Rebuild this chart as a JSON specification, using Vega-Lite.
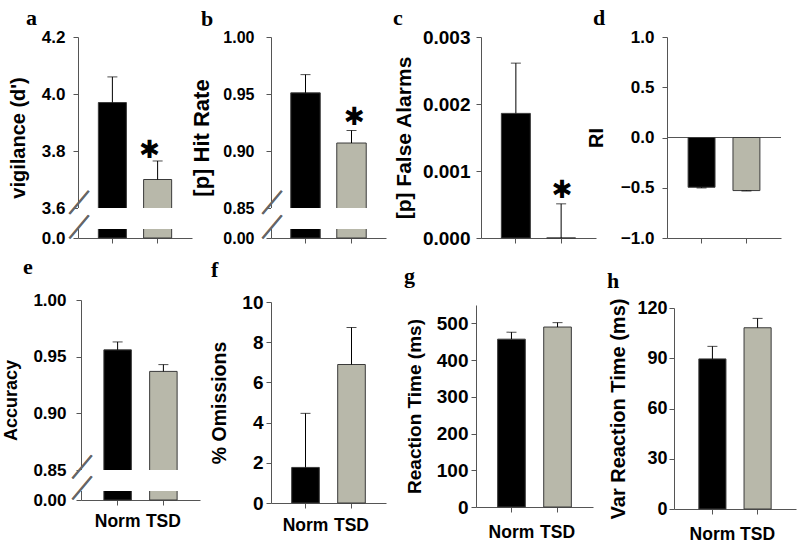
{
  "$schema": "https://vega.github.io/schema/vega-lite/v6.json",
  "background": "white",
  "padding": {"left": 2, "top": 7, "right": 5, "bottom": 5},
  "config": {
    "view": {"stroke": null},
    "font": "Liberation Sans",
    "axis": {"grid": false, "domainColor": "#555555", "tickColor": "#555555", "tickSize": 5, "labelFont": "Liberation Sans", "labelFontSize": 17, "labelFontWeight": "bold", "labelColor": "#000000", "labelPadding": 8, "titleFont": "Liberation Sans", "titleFontSize": 19, "titleFontWeight": "bold", "titleColor": "#000000", "titlePadding": 12, "labelOverlap": false, "labelFlush": false},
    "axisX": {"labelAngle": 0, "labelPadding": 3},
    "title": {"font": "Liberation Serif", "fontSize": 22, "fontWeight": "bold", "anchor": "start", "frame": "group", "baseline": "alphabetic", "offset": -2, "color": "#000000"}
  },
  "datasets": {
    "d": [
      {"panel": "a", "group": "Norm", "value": 3.97, "upper": 4.06, "sig": false},
      {"panel": "a", "group": "TSD", "value": 3.70, "upper": 3.765, "sig": true},
      {"panel": "b", "group": "Norm", "value": 0.951, "upper": 0.967, "sig": false},
      {"panel": "b", "group": "TSD", "value": 0.907, "upper": 0.918, "sig": true},
      {"panel": "c", "group": "Norm", "value": 0.00186, "upper": 0.00261, "sig": false},
      {"panel": "c", "group": "TSD", "value": 0, "upper": 0.00051, "sig": true},
      {"panel": "d", "group": "Norm", "value": -0.495, "upper": -0.502, "sig": false},
      {"panel": "d", "group": "TSD", "value": -0.528, "upper": -0.532, "sig": false},
      {"panel": "e", "group": "Norm", "value": 0.956, "upper": 0.963, "sig": false},
      {"panel": "e", "group": "TSD", "value": 0.937, "upper": 0.943, "sig": false},
      {"panel": "f", "group": "Norm", "value": 1.77, "upper": 4.46, "sig": false},
      {"panel": "f", "group": "TSD", "value": 6.89, "upper": 8.73, "sig": false},
      {"panel": "g", "group": "Norm", "value": 457, "upper": 476, "sig": false},
      {"panel": "g", "group": "TSD", "value": 490, "upper": 502, "sig": false},
      {"panel": "h", "group": "Norm", "value": 89.6, "upper": 97.1, "sig": false},
      {"panel": "h", "group": "TSD", "value": 108.2, "upper": 113.8, "sig": false}
    ]
  },
  "data": {"name": "d"},
  "columns": 4,
  "spacing": {"row": 62, "column": 0},
  "bounds": "flush",
  "align": "each",
  "concat": [
    {
      "width": 193, "height": 201,
      "title": {"text": "a", "dx": -52},
      "transform": [{"filter": "datum.panel === 'a'"}],
      "encoding": {"y": {"field": "value", "type": "quantitative", "scale": {"domain": [0, 0.1, 3.6, 4.2], "range": [201, 192, 171, 0], "zero": false, "nice": false}, "axis": {"title": "vigilance (d')", "values": [0, 3.6, 3.8, 4.0, 4.2], "format": ".1f", "labelFontSize": 17, "labelPadding": 8, "titleFontSize": 20, "titlePadding": 13}}},
      "layer": [
        {"mark": {"type": "bar", "stroke": "#3a3a3a", "strokeWidth": 1}, "encoding": {"x": {"field": "group", "type": "nominal", "sort": ["Norm", "TSD"], "scale": {"range": [0, 114], "paddingInner": 0.38, "paddingOuter": 0.45}, "axis": {"title": null, "labels": false}}, "y2": {"datum": 0}, "color": {"field": "group", "type": "nominal", "scale": {"domain": ["Norm", "TSD"], "range": ["#000000", "#b8b8aa"]}, "legend": null}}},
        {"mark": {"type": "rule", "color": "#000000", "strokeWidth": 1}, "encoding": {"x": {"field": "group", "type": "nominal", "sort": ["Norm", "TSD"]}, "y2": {"field": "upper"}}},
        {"mark": {"type": "tick", "color": "#000000", "thickness": 1, "size": 10, "orient": "horizontal"}, "encoding": {"x": {"field": "group", "type": "nominal", "sort": ["Norm", "TSD"]}, "y": {"field": "upper", "type": "quantitative"}}},
        {"transform": [{"filter": "datum.sig"}], "mark": {"type": "text", "text": "✱", "font": "DejaVu Sans", "fontSize": 25, "baseline": "middle", "dx": -8, "dy": -11, "color": "#000000"}, "encoding": {"x": {"field": "group", "type": "nominal", "sort": ["Norm", "TSD"]}, "y": {"field": "upper", "type": "quantitative"}}},
        {"mark": {"type": "rect", "color": "white"}, "encoding": {"y": {"datum": 0.1}, "y2": {"datum": 3.6}}},
        {"mark": {"type": "text", "text": "—", "font": "Liberation Sans", "fontSize": 30, "angle": -50, "baseline": "middle", "align": "center", "dx": -22.1, "dy": -26.35, "color": "#666666"}, "encoding": {"x": {"datum": "Norm"}, "y": {"datum": 3.623}}},
        {"mark": {"type": "text", "text": "—", "font": "Liberation Sans", "fontSize": 30, "angle": -50, "baseline": "middle", "align": "center", "dx": -22.1, "dy": -26.35, "color": "#666666"}, "encoding": {"x": {"datum": "Norm"}, "y": {"datum": 0.6}}}
      ]
    },
    {
      "width": 205, "height": 201,
      "title": {"text": "b", "dx": -70},
      "transform": [{"filter": "datum.panel === 'b'"}],
      "encoding": {"y": {"field": "value", "type": "quantitative", "scale": {"domain": [0, 0.01, 0.85, 1.0], "range": [201, 192, 171, 0], "zero": false, "nice": false}, "axis": {"title": "[p] Hit Rate", "values": [0, 0.85, 0.9, 0.95, 1.0], "format": ".2f", "labelFontSize": 16, "labelPadding": 12, "titleFontSize": 22, "titlePadding": 9}}},
      "layer": [
        {"mark": {"type": "bar", "stroke": "#3a3a3a", "strokeWidth": 1}, "encoding": {"x": {"field": "group", "type": "nominal", "sort": ["Norm", "TSD"], "scale": {"range": [0, 115], "paddingInner": 0.36, "paddingOuter": 0.43}, "axis": {"title": null, "labels": false}}, "y2": {"datum": 0}, "color": {"field": "group", "type": "nominal", "scale": {"domain": ["Norm", "TSD"], "range": ["#000000", "#b8b8aa"]}, "legend": null}}},
        {"mark": {"type": "rule", "color": "#000000", "strokeWidth": 1}, "encoding": {"x": {"field": "group", "type": "nominal", "sort": ["Norm", "TSD"]}, "y2": {"field": "upper"}}},
        {"mark": {"type": "tick", "color": "#000000", "thickness": 1, "size": 10, "orient": "horizontal"}, "encoding": {"x": {"field": "group", "type": "nominal", "sort": ["Norm", "TSD"]}, "y": {"field": "upper", "type": "quantitative"}}},
        {"transform": [{"filter": "datum.sig"}], "mark": {"type": "text", "text": "✱", "font": "DejaVu Sans", "fontSize": 25, "baseline": "middle", "dx": 3, "dy": -13, "color": "#000000"}, "encoding": {"x": {"field": "group", "type": "nominal", "sort": ["Norm", "TSD"]}, "y": {"field": "upper", "type": "quantitative"}}},
        {"mark": {"type": "rect", "color": "white"}, "encoding": {"y": {"datum": 0.01}, "y2": {"datum": 0.85}}},
        {"mark": {"type": "text", "text": "—", "font": "Liberation Sans", "fontSize": 30, "angle": -50, "baseline": "middle", "align": "center", "dx": -22.2, "dy": -26.4, "color": "#666666"}, "encoding": {"x": {"datum": "Norm"}, "y": {"datum": 0.8557}}},
        {"mark": {"type": "text", "text": "—", "font": "Liberation Sans", "fontSize": 30, "angle": -50, "baseline": "middle", "align": "center", "dx": -22.2, "dy": -26.4, "color": "#666666"}, "encoding": {"x": {"datum": "Norm"}, "y": {"datum": 0.13}}}
      ]
    },
    {
      "width": 191, "height": 201,
      "title": {"text": "c", "dx": -83},
      "transform": [{"filter": "datum.panel === 'c'"}],
      "encoding": {"y": {"field": "value", "type": "quantitative", "scale": {"domain": [0, 0.003], "range": [201, 0], "zero": false, "nice": false}, "axis": {"title": "[p] False Alarms", "values": [0, 0.001, 0.002, 0.003], "format": ".3f", "offset": -5, "labelFontSize": 19, "labelPadding": 6, "titleFontSize": 21, "titlePadding": 8}}},
      "layer": [
        {"mark": {"type": "bar", "stroke": "#3a3a3a", "strokeWidth": 1}, "encoding": {"x": {"field": "group", "type": "nominal", "sort": ["Norm", "TSD"], "scale": {"range": [5, 120], "paddingInner": 0.36, "paddingOuter": 0.45}, "axis": {"title": null, "labels": false}}, "y2": {"datum": 0}, "color": {"field": "group", "type": "nominal", "scale": {"domain": ["Norm", "TSD"], "range": ["#000000", "#b8b8aa"]}, "legend": null}}},
        {"mark": {"type": "rule", "color": "#000000", "strokeWidth": 1}, "encoding": {"x": {"field": "group", "type": "nominal", "sort": ["Norm", "TSD"]}, "y2": {"field": "upper"}}},
        {"mark": {"type": "tick", "color": "#000000", "thickness": 1, "size": 10, "orient": "horizontal"}, "encoding": {"x": {"field": "group", "type": "nominal", "sort": ["Norm", "TSD"]}, "y": {"field": "upper", "type": "quantitative"}}},
        {"transform": [{"filter": "datum.sig"}], "mark": {"type": "text", "text": "✱", "font": "DejaVu Sans", "fontSize": 25, "baseline": "middle", "dx": 1, "dy": -14, "color": "#000000"}, "encoding": {"x": {"field": "group", "type": "nominal", "sort": ["Norm", "TSD"]}, "y": {"field": "upper", "type": "quantitative"}}}
      ]
    },
    {
      "width": 114, "height": 201,
      "title": {"text": "d", "dx": -74},
      "transform": [{"filter": "datum.panel === 'd'"}],
      "encoding": {"y": {"field": "value", "type": "quantitative", "scale": {"domain": [-1, 1], "range": [201, 0], "zero": false, "nice": false}, "axis": {"title": "RI", "values": [-1, -0.5, 0, 0.5, 1], "format": ".1f", "labelFontSize": 17, "labelPadding": 8, "titleFontSize": 20, "titlePadding": 14}}},
      "layer": [
        {"mark": {"type": "rule", "color": "#555555", "strokeWidth": 1}, "encoding": {"y": {"datum": 0}}},
        {"mark": {"type": "bar", "stroke": "#3a3a3a", "strokeWidth": 1}, "encoding": {"x": {"field": "group", "type": "nominal", "sort": ["Norm", "TSD"], "scale": {"range": [0, 114], "paddingInner": 0.4, "paddingOuter": 0.47}, "axis": {"title": null, "labels": false}}, "y2": {"datum": 0}, "color": {"field": "group", "type": "nominal", "scale": {"domain": ["Norm", "TSD"], "range": ["#000000", "#b8b8aa"]}, "legend": null}}},
        {"mark": {"type": "rule", "color": "#000000", "strokeWidth": 1}, "encoding": {"x": {"field": "group", "type": "nominal", "sort": ["Norm", "TSD"]}, "y2": {"field": "upper"}}},
        {"mark": {"type": "tick", "color": "#000000", "thickness": 1, "size": 10, "orient": "horizontal"}, "encoding": {"x": {"field": "group", "type": "nominal", "sort": ["Norm", "TSD"]}, "y": {"field": "upper", "type": "quantitative"}}}
      ]
    },
    {
      "width": 193, "height": 200,
      "title": {"text": "e", "dx": -55, "offset": 12},
      "transform": [{"filter": "datum.panel === 'e'"}],
      "encoding": {"y": {"field": "value", "type": "quantitative", "scale": {"domain": [0, 0.01, 0.85, 1.0], "range": [200, 191, 170, 0], "zero": false, "nice": false}, "axis": {"title": "Accuracy", "values": [0, 0.85, 0.9, 0.95, 1.0], "format": ".2f", "offset": -3, "labelFontSize": 17, "labelPadding": 10, "titleFontSize": 18, "titlePadding": 12}}},
      "layer": [
        {"mark": {"type": "bar", "stroke": "#3a3a3a", "strokeWidth": 1}, "encoding": {"x": {"field": "group", "type": "nominal", "sort": ["Norm", "TSD"], "scale": {"range": [3, 122], "paddingInner": 0.4, "paddingOuter": 0.5}, "axis": {"title": null, "labelPadding": 7, "labelFontSize": 17.5}}, "y2": {"datum": 0}, "color": {"field": "group", "type": "nominal", "scale": {"domain": ["Norm", "TSD"], "range": ["#000000", "#b8b8aa"]}, "legend": null}}},
        {"mark": {"type": "rule", "color": "#000000", "strokeWidth": 1}, "encoding": {"x": {"field": "group", "type": "nominal", "sort": ["Norm", "TSD"]}, "y2": {"field": "upper"}}},
        {"mark": {"type": "tick", "color": "#000000", "thickness": 1, "size": 10, "orient": "horizontal"}, "encoding": {"x": {"field": "group", "type": "nominal", "sort": ["Norm", "TSD"]}, "y": {"field": "upper", "type": "quantitative"}}},
        {"mark": {"type": "rect", "color": "white"}, "encoding": {"y": {"datum": 0.01}, "y2": {"datum": 0.85}}},
        {"mark": {"type": "text", "text": "—", "font": "Liberation Sans", "fontSize": 30, "angle": -50, "baseline": "middle", "align": "center", "dx": -23.5, "dy": -28.0, "color": "#666666"}, "encoding": {"x": {"datum": "Norm"}, "y": {"datum": 0.8535}}},
        {"mark": {"type": "text", "text": "—", "font": "Liberation Sans", "fontSize": 30, "angle": -50, "baseline": "middle", "align": "center", "dx": -23.5, "dy": -28.0, "color": "#666666"}, "encoding": {"x": {"datum": "Norm"}, "y": {"datum": 0.17}}}
      ]
    },
    {
      "width": 205, "height": 203,
      "title": {"text": "f", "dx": -60, "offset": 11},
      "transform": [{"filter": "datum.panel === 'f'"}],
      "encoding": {"y": {"field": "value", "type": "quantitative", "scale": {"domain": [0, 10], "range": [203, 2], "zero": false, "nice": false}, "axis": {"title": "% Omissions", "values": [0, 2, 4, 6, 8, 10], "labelFontSize": 19, "labelPadding": 3, "titleFontSize": 19.5, "titlePadding": 12}}},
      "layer": [
        {"mark": {"type": "bar", "stroke": "#3a3a3a", "strokeWidth": 1}, "encoding": {"x": {"field": "group", "type": "nominal", "sort": ["Norm", "TSD"], "scale": {"range": [0, 115], "paddingInner": 0.4, "paddingOuter": 0.45}, "axis": {"title": null, "labelPadding": 8, "labelFontSize": 17.5}}, "y2": {"datum": 0}, "color": {"field": "group", "type": "nominal", "scale": {"domain": ["Norm", "TSD"], "range": ["#000000", "#b8b8aa"]}, "legend": null}}},
        {"mark": {"type": "rule", "color": "#000000", "strokeWidth": 1}, "encoding": {"x": {"field": "group", "type": "nominal", "sort": ["Norm", "TSD"]}, "y2": {"field": "upper"}}},
        {"mark": {"type": "tick", "color": "#000000", "thickness": 1, "size": 10, "orient": "horizontal"}, "encoding": {"x": {"field": "group", "type": "nominal", "sort": ["Norm", "TSD"]}, "y": {"field": "upper", "type": "quantitative"}}}
      ]
    },
    {
      "width": 191, "height": 207,
      "title": {"text": "g", "dx": -72, "offset": 12},
      "transform": [{"filter": "datum.panel === 'g'"}],
      "encoding": {"y": {"field": "value", "type": "quantitative", "scale": {"domain": [0, 550], "range": [207, 5], "zero": false, "nice": false}, "axis": {"title": "Reaction Time (ms)", "values": [0, 100, 200, 300, 400, 500], "labelFontSize": 19, "labelPadding": 3, "titleFontSize": 19, "titlePadding": 12}}},
      "layer": [
        {"mark": {"type": "bar", "stroke": "#3a3a3a", "strokeWidth": 1}, "encoding": {"x": {"field": "group", "type": "nominal", "sort": ["Norm", "TSD"], "scale": {"range": [0, 117], "paddingInner": 0.4, "paddingOuter": 0.47}, "axis": {"title": null, "labelPadding": 11, "labelFontSize": 17.5}}, "y2": {"datum": 0}, "color": {"field": "group", "type": "nominal", "scale": {"domain": ["Norm", "TSD"], "range": ["#000000", "#b8b8aa"]}, "legend": null}}},
        {"mark": {"type": "rule", "color": "#000000", "strokeWidth": 1}, "encoding": {"x": {"field": "group", "type": "nominal", "sort": ["Norm", "TSD"]}, "y2": {"field": "upper"}}},
        {"mark": {"type": "tick", "color": "#000000", "thickness": 1, "size": 10, "orient": "horizontal"}, "encoding": {"x": {"field": "group", "type": "nominal", "sort": ["Norm", "TSD"]}, "y": {"field": "upper", "type": "quantitative"}}}
      ]
    },
    {
      "width": 129, "height": 209,
      "title": {"text": "h", "dx": -60, "offset": 5},
      "transform": [{"filter": "datum.panel === 'h'"}],
      "encoding": {"y": {"field": "value", "type": "quantitative", "scale": {"domain": [0, 120], "range": [209, 8], "zero": false, "nice": false}, "axis": {"title": "Var Reaction Time (ms)", "values": [0, 30, 60, 90, 120], "offset": -7, "labelFontSize": 18, "labelPadding": 2, "titleFontSize": 20, "titlePadding": 8}}},
      "layer": [
        {"mark": {"type": "bar", "stroke": "#3a3a3a", "strokeWidth": 1}, "encoding": {"x": {"field": "group", "type": "nominal", "sort": ["Norm", "TSD"], "scale": {"range": [7, 129], "paddingInner": 0.4, "paddingOuter": 0.55}, "axis": {"title": null, "labelPadding": 11, "labelFontSize": 17.5}}, "y2": {"datum": 0}, "color": {"field": "group", "type": "nominal", "scale": {"domain": ["Norm", "TSD"], "range": ["#000000", "#b8b8aa"]}, "legend": null}}},
        {"mark": {"type": "rule", "color": "#000000", "strokeWidth": 1}, "encoding": {"x": {"field": "group", "type": "nominal", "sort": ["Norm", "TSD"]}, "y2": {"field": "upper"}}},
        {"mark": {"type": "tick", "color": "#000000", "thickness": 1, "size": 10, "orient": "horizontal"}, "encoding": {"x": {"field": "group", "type": "nominal", "sort": ["Norm", "TSD"]}, "y": {"field": "upper", "type": "quantitative"}}}
      ]
    }
  ]
}
